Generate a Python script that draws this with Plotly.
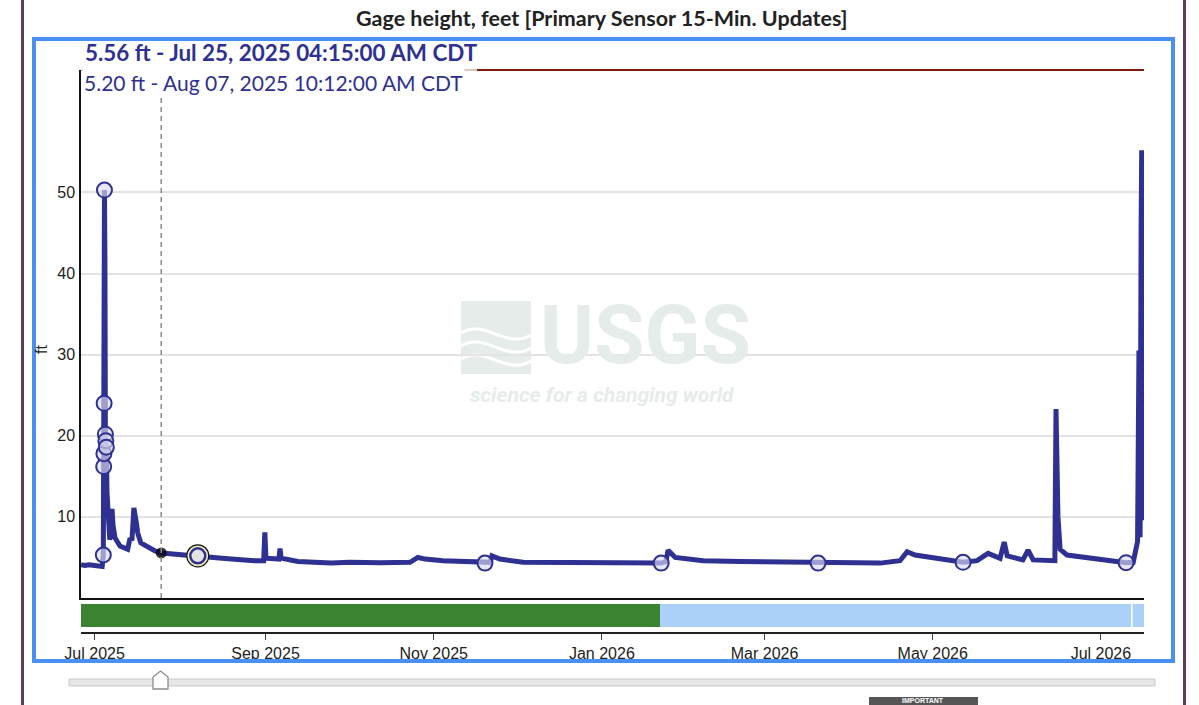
import pandas as pd
import plotly.graph_objects as go

# ---------------- data ----------------
level_times = [
    "2025-06-26 02:00", "2025-06-27 12:00", "2025-06-29 00:00", "2025-06-30 12:00",
    "2025-07-02 00:00", "2025-07-03 00:00", "2025-07-03 18:00", "2025-07-04 04:00",
    "2025-07-04 07:00", "2025-07-04 09:00", "2025-07-04 11:00", "2025-07-04 14:00",
    "2025-07-04 18:00", "2025-07-04 22:00", "2025-07-05 02:00", "2025-07-05 06:00",
    "2025-07-05 12:00", "2025-07-05 20:00", "2025-07-06 12:00", "2025-07-07 04:00",
    "2025-07-07 08:00", "2025-07-07 16:00", "2025-07-08 10:00", "2025-07-10 05:00",
    "2025-07-13 00:00", "2025-07-13 18:00", "2025-07-14 14:00", "2025-07-15 06:00",
    "2025-07-16 00:00", "2025-07-16 16:00", "2025-07-17 18:00", "2025-07-20 00:00",
    "2025-07-22 22:00", "2025-07-25 04:15", "2025-08-01 10:00", "2025-08-07 10:12",
    "2025-08-13 00:00", "2025-08-19 12:00", "2025-08-28 00:00", "2025-08-31 08:00",
    "2025-08-31 18:00", "2025-09-01 04:00", "2025-09-05 20:00", "2025-09-06 06:00",
    "2025-09-06 16:00", "2025-09-12 19:00", "2025-09-24 19:00", "2025-10-01 15:00",
    "2025-10-12 12:00", "2025-10-23 10:00", "2025-10-26 06:00", "2025-10-28 22:00",
    "2025-11-04 10:00", "2025-11-14 05:00", "2025-11-19 14:00", "2025-11-21 12:00",
    "2025-11-22 03:00", "2025-11-25 00:00", "2025-12-03 10:00", "2025-12-16 19:00",
    "2025-12-31 08:00", "2026-01-11 05:00", "2026-01-22 12:00", "2026-01-24 06:00",
    "2026-01-25 00:00", "2026-01-27 14:00", "2026-02-06 17:00", "2026-02-20 05:00",
    "2026-03-06 17:00", "2026-03-20 10:00", "2026-04-01 00:00", "2026-04-11 22:00",
    "2026-04-19 03:00", "2026-04-21 17:00", "2026-04-24 14:00", "2026-05-03 14:00",
    "2026-05-12 00:00", "2026-05-17 02:00", "2026-05-20 00:00", "2026-05-21 02:00",
    "2026-05-25 10:00", "2026-05-26 22:00", "2026-05-28 00:00", "2026-06-02 17:00",
    "2026-06-04 14:00", "2026-06-06 10:00", "2026-06-14 07:00", "2026-06-14 17:00",
    "2026-06-15 10:00", "2026-06-16 05:00", "2026-06-18 17:00", "2026-06-29 14:00",
    "2026-07-08 00:00", "2026-07-10 03:00", "2026-07-12 17:00", "2026-07-13 19:00",
    "2026-07-14 07:00", "2026-07-14 19:00", "2026-07-15 05:00", "2026-07-15 14:00",
    "2026-07-15 19:00", "2026-07-16 00:00",
]
level_values = [
    4.1, 4.0, 4.1, 4.0,
    4.0, 3.8, 3.9, 5.3,
    16.2, 17.8, 24.0, 50.3,
    42.0, 20.2, 19.4, 18.6,
    13.0, 9.5, 7.2, 8.0,
    11.0, 9.0, 7.4, 6.4,
    6.0, 7.2, 7.3, 11.1,
    9.6, 8.0, 6.8, 6.3,
    5.8, 5.56, 5.3, 5.20,
    5.0, 4.8, 4.6, 4.6,
    8.1, 4.9, 4.8, 6.1,
    4.9, 4.5, 4.3, 4.4,
    4.35, 4.4, 5.0, 4.8,
    4.6, 4.4, 4.3, 4.4,
    5.2, 4.8, 4.4, 4.35,
    4.3, 4.3, 4.3, 4.5,
    5.9, 5.0, 4.6, 4.5,
    4.45, 4.3, 4.4, 4.3,
    4.6, 5.7, 5.3, 4.8,
    4.4, 4.6, 5.2, 5.5,
    4.9, 6.9, 5.2, 4.7,
    5.9, 4.7, 4.6, 23.3,
    10.0, 6.0, 5.3, 4.8,
    4.4, 4.35, 4.4, 5.8,
    7.0, 30.5, 7.5, 46.0,
    55.2, 9.6,
]

field_times = [
    "2025-07-04 04:00", "2025-07-04 07:00", "2025-07-04 09:00", "2025-07-04 11:00",
    "2025-07-04 14:00", "2025-07-04 22:00", "2025-07-05 02:00", "2025-07-05 06:00",
    "2025-11-19 14:00", "2026-01-22 12:00", "2026-03-20 10:00", "2026-05-12 00:00",
    "2026-07-10 03:00",
]
field_values = [5.3, 16.2, 17.8, 24.0, 50.3, 20.2, 19.4, 18.6, 4.3, 4.3, 4.3, 4.4, 4.35]

cursor_time = "2025-07-25 04:15"
cursor_value = 5.56
cursor_label = "5.56 ft - Jul 25, 2025 04:15:00 AM CDT"
selected_time = "2025-08-07 10:12"
selected_value = 5.20
selected_label = "5.20 ft - Aug 07, 2025 10:12:00 AM CDT"

period_starts = ["2025-06-26 01:40", "2026-01-22 02:00"]
period_ends = ["2026-01-22 02:00", "2026-07-16 15:00"]
period_colors = ["#3b8331", "#abd1f8"]
period_divider = "2026-07-12 05:00"

x_tick_dates = ["2025-07-01", "2025-09-01", "2025-11-01", "2026-01-01",
                "2026-03-01", "2026-05-01", "2026-07-01"]
x_tick_labels = ["Jul 2025", "Sep 2025", "Nov 2025", "Jan 2026",
                 "Mar 2026", "May 2026", "Jul 2026"]
y_tick_values = [10, 20, 30, 40, 50]
x_range = ["2025-06-26 01:40", "2026-07-16 15:00"]
y_range = [0, 65.1]

title_text = "Gage height, feet [Primary Sensor 15-Min. Updates]"

# ---------------- layout helpers ----------------
W, H = 1199, 705
L, R, T, B = 81, 55, 70, 73
PW = W - L - R
PH = H - T - B


def px(x):
    return (x - L) / PW


def py(y):
    return (H - B - y) / PH


LINE_BLUE = "#2e3192"
TICK_FONT = dict(family="Liberation Sans, Arial, sans-serif", size=16, color="#222")
LABEL_FONT = "Lato, 'Open Sans', sans-serif"
MARK = "#e6ece9"

fig = go.Figure()

# status bar (approval periods)
durations = [(pd.Timestamp(e) - pd.Timestamp(s)).total_seconds() * 1000
             for s, e in zip(period_starts, period_ends)]
fig.add_trace(go.Bar(
    x=durations, y=[0.59] * len(durations), base=period_starts, orientation="h",
    width=0.82, marker=dict(color=period_colors, line=dict(width=0)),
    xaxis="x2", yaxis="y2", hoverinfo="skip", showlegend=False,
))

# main series
fig.add_trace(go.Scatter(
    x=level_times, y=level_values, mode="lines",
    line=dict(color=LINE_BLUE, width=5), hoverinfo="skip", showlegend=False,
))
# field points
fig.add_trace(go.Scatter(
    x=field_times, y=field_values, mode="markers",
    marker=dict(size=15, color="rgba(218,218,240,0.65)", line=dict(color=LINE_BLUE, width=2)),
    hoverinfo="skip", showlegend=False,
))
# cursor dot
fig.add_trace(go.Scatter(
    x=[cursor_time], y=[cursor_value], mode="markers",
    marker=dict(size=11, color="rgba(10,10,20,0.85)"),
    hoverinfo="skip", showlegend=False,
))
# selected point (ringed)
fig.add_trace(go.Scatter(
    x=[selected_time], y=[selected_value], mode="markers",
    marker=dict(size=22, color="#f4eeb4", line=dict(color="#111", width=1.2)),
    hoverinfo="skip", showlegend=False,
))
fig.add_trace(go.Scatter(
    x=[selected_time], y=[selected_value], mode="markers",
    marker=dict(size=15, color="#e3e3e3", line=dict(color=LINE_BLUE, width=2.5)),
    hoverinfo="skip", showlegend=False,
))

shapes = []
# frame lines of page
shapes.append(dict(type="line", xref="paper", yref="paper", x0=px(22.5), x1=px(22.5),
                   y0=py(0), y1=py(705), line=dict(color="#5b3c5a", width=3)))
shapes.append(dict(type="line", xref="paper", yref="paper", x0=px(1184.5), x1=px(1184.5),
                   y0=py(0), y1=py(705), line=dict(color="#5b3c5a", width=3)))
# blue selection frame
shapes.append(dict(type="rect", xref="paper", yref="paper", x0=px(34), x1=px(1173),
                   y0=py(39), y1=py(661), line=dict(color="#4a90f2", width=4)))
# watermark logo block
shapes.append(dict(type="rect", xref="paper", yref="paper", layer="below",
                   x0=px(461), x1=px(531), y0=py(374), y1=py(301),
                   fillcolor=MARK, line=dict(width=0)))
for off in (0, 13, 26):
    path = "M{},{} C{},{} {},{} {},{}".format(
        px(461), py(333 + off), px(485), py(318 + off), px(505), py(350 + off), px(531), py(335 + off))
    shapes.append(dict(type="path", xref="paper", yref="paper", layer="below", path=path,
                       line=dict(color="white", width=3)))
# top reference line
shapes.append(dict(type="line", xref="paper", yref="paper", x0=0, x1=1, y0=py(70), y1=py(70),
                   line=dict(color="#7d1d12", width=2)))
shapes.append(dict(type="line", xref="paper", yref="paper", x0=px(81), x1=px(477), y0=py(70),
                   y1=py(70), line=dict(color="#d6c6bd", width=2.2)))
# cursor dashed line
shapes.append(dict(type="line", xref="x", yref="paper", x0=cursor_time, x1=cursor_time,
                   y0=py(598), y1=py(71), line=dict(color="#8a8a8a", width=1.5, dash="5px,4px")))
# status bar divider
shapes.append(dict(type="line", xref="x2", yref="y2", x0=period_divider, x1=period_divider,
                   y0=0.18, y1=1, line=dict(color="white", width=1.5)))
# slider track and handle
shapes.append(dict(type="rect", xref="paper", yref="paper", x0=px(69), x1=px(1155),
                   y0=py(686), y1=py(679), fillcolor="#e7e7e7", line=dict(color="#c9c9c9", width=1)))
handle = "M{},{} L{},{} L{},{} L{},{} L{},{} Z".format(
    px(153), py(689), px(153), py(677), px(160.5), py(671), px(168), py(677), px(168), py(689))
shapes.append(dict(type="path", xref="paper", yref="paper", path=handle,
                   fillcolor="white", line=dict(color="#8c8c8c", width=1.3)))
# IMPORTANT badge
shapes.append(dict(type="rect", xref="paper", yref="paper", x0=px(869), x1=px(978),
                   y0=py(716), y1=py(697), fillcolor="#555555", line=dict(width=0)))

annotations = [
    dict(text="<b>" + title_text + "</b>", xref="paper", yref="paper", x=px(602), y=py(18),
         xanchor="center", yanchor="middle", showarrow=False,
         font=dict(family=LABEL_FONT, size=21.5, color="#222")),
    dict(text="<b>" + cursor_label + "</b>", xref="paper", yref="paper", x=px(83), y=py(52),
         xanchor="left", yanchor="middle", showarrow=False,
         font=dict(family=LABEL_FONT, size=22.4, color=LINE_BLUE)),
    dict(text=selected_label, xref="paper", yref="paper", x=px(82), y=py(83),
         xanchor="left", yanchor="middle", showarrow=False, bgcolor="white", borderpad=1,
         font=dict(family=LABEL_FONT, size=21, color=LINE_BLUE)),
    dict(text="ft", xref="paper", yref="paper", x=px(41), y=py(350), textangle=-90,
         xanchor="center", yanchor="middle", showarrow=False, font=TICK_FONT),
    dict(text="<b>USGS</b>", xref="paper", yref="paper", x=px(645), y=py(335),
         xanchor="center", yanchor="middle", showarrow=False,
         font=dict(family="Roboto, sans-serif", size=82, color=MARK)),
    dict(text="<b><i>science for a changing world</i></b>", xref="paper", yref="paper",
         x=px(602), y=py(395), xanchor="center", yanchor="middle", showarrow=False,
         font=dict(family="Roboto, sans-serif", size=21, color=MARK)),
    dict(text="<b>IMPORTANT</b>", xref="paper", yref="paper", x=px(923), y=py(700.5),
         xanchor="center", yanchor="middle", showarrow=False,
         font=dict(family="Liberation Sans, Arial, sans-serif", size=7, color="white")),
]

fig.update_layout(
    width=W, height=H,
    margin=dict(l=L, r=R, t=T, b=B, pad=0),
    paper_bgcolor="white", plot_bgcolor="white",
    showlegend=False,
    xaxis=dict(type="date", range=x_range, anchor="y", domain=[0, 1],
               showticklabels=False, ticks="", showgrid=False, zeroline=False,
               showline=True, linecolor="#111", linewidth=1.5),
    yaxis=dict(range=y_range, domain=[py(598), 1], anchor="x",
               tickvals=y_tick_values, ticks="outside", ticklen=1, tickcolor="white",
               tickfont=TICK_FONT, showgrid=True, gridcolor="#e3e3e3", gridwidth=1.5,
               zeroline=False, showline=True, linecolor="#111", linewidth=1.5),
    xaxis2=dict(type="date", range=x_range, anchor="y2", domain=[0, 1],
                tickvals=x_tick_dates, ticktext=x_tick_labels, ticks="outside",
                ticklen=6, tickcolor="#444", tickwidth=1, tickfont=TICK_FONT,
                showgrid=False, zeroline=False, showline=True, linecolor="#222",
                linewidth=1.5),
    yaxis2=dict(range=[0, 1], domain=[0, py(604)], anchor="x2", visible=False,
                fixedrange=True),
    shapes=shapes,
    annotations=annotations,
    bargap=0,
)

fig.write_html("out.html")
